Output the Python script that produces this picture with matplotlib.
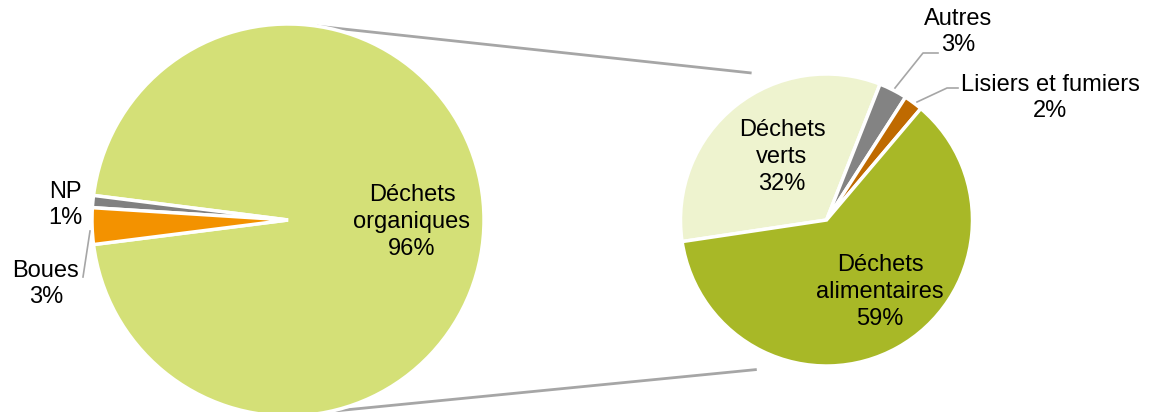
import numpy as np
import matplotlib
matplotlib.use("Agg")
import matplotlib.pyplot as plt

plt.rcParams["font.family"] = ["Liberation Sans", "DejaVu Sans"]

# main pie: share of total
main_labels = ["Déchets\norganiques", "NP", "Boues"]
main_values = [96, 1, 3]
main_colors = ["#D4E077", "#808080", "#F39200"]

# detail of the organic waste slice
sub_labels = ["Déchets\nverts", "Autres", "Lisiers et fumiers", "Déchets\nalimentaires"]
sub_values = [32, 3, 2, 59]
sub_colors = ["#EEF3CF", "#838383", "#BF6A00", "#A8B827"]

W, H = 1156, 412
fig = plt.figure(figsize=(W / 100, H / 100), dpi=100)
ax = fig.add_axes([0, 0, 1, 1])

c1, r1 = (288, 192), 196
c2, r2 = (826.5, 192), 146
fs = 17

ax.pie(main_values, colors=main_colors, center=c1, radius=r1, startangle=187.2,
       counterclock=True, frame=True,
       wedgeprops=dict(edgecolor="white", linewidth=2.5))
ax.pie(sub_values, colors=sub_colors, center=c2, radius=r2, startangle=188.5,
       counterclock=False, frame=True,
       wedgeprops=dict(edgecolor="white", linewidth=2.5))
ax.set_xlim(0, W)
ax.set_ylim(0, H)
ax.set_aspect("equal")
ax.axis("off")


def polar(c, r, deg):
    a = np.deg2rad(deg)
    return c[0] + r * np.cos(a), c[1] + r * np.sin(a)


# connector lines between the two pies
line_kw = dict(color="#A6A6A6", lw=2, solid_capstyle="butt", zorder=0)
for a1, a2 in [(81.5, 117), (-77.6, -115)]:
    p = polar(c1, r1, a1)
    q = polar(c2, r2 * 1.13, a2)
    ax.plot([p[0], q[0]], [p[1], q[1]], **line_kw)

txt = dict(ha="center", va="center", fontsize=fs, linespacing=1.27, color="black")

# labels for the main pie
ax.text(412, H - 222, f"{main_labels[0]}\n{main_values[0]}%", **txt)
ax.text(65, H - 205, f"{main_labels[1]}\n{main_values[1]}%", **txt)
ax.text(46, H - 284, f"{main_labels[2]}\n{main_values[2]}%", **txt)
ax.plot([90, 83], [H - 231, H - 277], color="#A6A6A6", lw=1.2)

# labels for the detail pie
ax.text(782, H - 157, f"{sub_labels[0]}\n{sub_values[0]}%", **txt)
ax.text(958, H - 32, f"{sub_labels[1]}\n{sub_values[1]}%", **txt)
ax.text(1050, H - 98, f"{sub_labels[2]}\n{sub_values[2]}%", **txt)
ax.text(880, H - 292, f"{sub_labels[3]}\n{sub_values[3]}%", **txt)

lead_kw = dict(color="#A6A6A6", lw=1.2)
ax.plot([895, 923, 938], [H - 88, H - 53, H - 53], **lead_kw)
ax.plot([917, 947, 958], [H - 102, H - 88, H - 88], **lead_kw)

fig.savefig("out.png", dpi=100)
